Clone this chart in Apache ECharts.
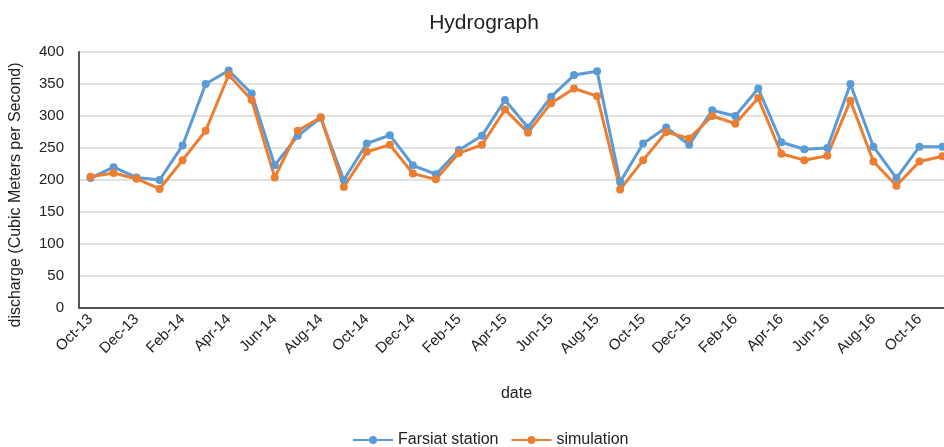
<!DOCTYPE html>
<html>
<head>
<meta charset="utf-8">
<script src="https://cdn.jsdelivr.net/npm/echarts@6/dist/echarts.min.js"></script>
<style>html,body{margin:0;padding:0;background:#fff;}#c{width:944px;height:447px;}</style>
</head>
<body>
<div id="c"></div>
<script>
const categories = ["Oct-13","Nov-13","Dec-13","Jan-14","Feb-14","Mar-14","Apr-14","May-14","Jun-14","Jul-14","Aug-14","Sep-14",
  "Oct-14","Nov-14","Dec-14","Jan-15","Feb-15","Mar-15","Apr-15","May-15","Jun-15","Jul-15","Aug-15","Sep-15",
  "Oct-15","Nov-15","Dec-15","Jan-16","Feb-16","Mar-16","Apr-16","May-16","Jun-16","Jul-16","Aug-16","Sep-16",
  "Oct-16","Nov-16"];
const farsiat = [203,220,204,200,254,350,371,335,223,269,297,200,
  257,270,223,209,247,269,325,282,330,364,370,197,
  257,282,255,309,300,343,259,248,250,350,252,203,
  252,252];
const simulation = [205,211,202,186,231,277,364,325,204,277,298,189,
  244,255,210,201,242,255,310,274,320,343,331,185,
  231,275,265,300,288,328,241,231,238,324,229,191,
  229,237];
const yTicks = {min: 0, max: 400, interval: 50};

const chart = echarts.init(document.getElementById('c'), null, {renderer: 'canvas'});
const font = 'Liberation Sans, Arial, sans-serif';
const blue = '#5B9BD5', orange = '#ED7D31';
chart.setOption({
  animation: false,
  backgroundColor: '#ffffff',
  title: {
    text: 'Hydrograph', left: 479, top: 8, textAlign: 'center',
    textStyle: {fontFamily: font, fontSize: 21, fontWeight: 'normal', color: '#222'}
  },
  legend: {
    data: ['Farsiat station', 'simulation'],
    left: 347, top: 427, itemWidth: 40, itemHeight: 10, itemGap: 12,
    textStyle: {fontFamily: font, fontSize: 16, color: '#222'}
  },
  grid: {left: 79, top: 52, width: 875, height: 256, containLabel: false, outerBoundsMode: 'none'},
  xAxis: {
    type: 'category', data: categories, boundaryGap: true,
    name: 'date', nameLocation: 'middle', nameGap: 78,
    nameTextStyle: {fontFamily: font, fontSize: 16, color: '#222'},
    axisLine: {lineStyle: {color: '#555', width: 2}},
    axisTick: {show: false},
    axisLabel: {interval: 1, rotate: 45, margin: 9, fontFamily: font, fontSize: 15, color: '#222'},
    splitLine: {show: false}
  },
  yAxis: {
    type: 'value', min: yTicks.min, max: yTicks.max, interval: yTicks.interval,
    name: 'discharge (Cubic Meters per Second)', nameLocation: 'middle', nameGap: 55,
    nameTextStyle: {fontFamily: font, fontSize: 16, color: '#222', padding: [0, 30, 0, 0]},
    axisLine: {show: true, lineStyle: {color: '#555', width: 2}},
    axisTick: {show: false},
    axisLabel: {margin: 15, fontFamily: font, fontSize: 15, color: '#222'},
    splitLine: {lineStyle: {color: '#D9D9D9', width: 1.5}}
  },
  series: [
    {name: 'Farsiat station', type: 'line', data: farsiat, symbol: 'circle', symbolSize: 8,
     lineStyle: {color: blue, width: 3}, itemStyle: {color: blue}},
    {name: 'simulation', type: 'line', data: simulation, symbol: 'circle', symbolSize: 8,
     lineStyle: {color: orange, width: 3}, itemStyle: {color: orange}}
  ]
});
</script>
</body>
</html>
